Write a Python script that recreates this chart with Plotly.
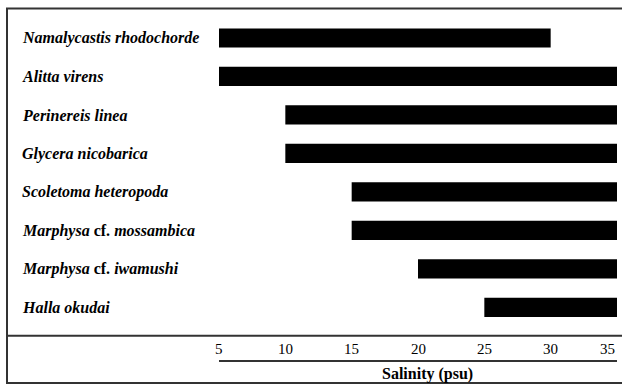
import plotly.graph_objects as go

species = [
    "<i>Namalycastis rhodochorde</i>",
    "<i>Alitta virens</i>",
    "<i>Perinereis linea</i>",
    "<i>Glycera nicobarica</i>",
    "<i>Scoletoma heteropoda</i>",
    "<i>Marphysa</i> cf. <i>mossambica</i>",
    "<i>Marphysa</i> cf. <i>iwamushi</i>",
    "<i>Halla okudai</i>",
]
keys = ["Namalycastis", "Alitta", "Perinereis", "Glycera", "Scoletoma",
        "Marphysa_m", "Marphysa_i", "Halla"]
sal_min = [5, 5, 10, 10, 15, 15, 20, 25]
sal_max = [30, 35, 35, 35, 35, 35, 35, 35]
tick_vals = [5, 10, 15, 20, 25, 30, 35]
tick_text = ["5", "10", "15", "20", "25", "30", "35"]
x_title = "Salinity (psu)"

W, H = 622, 385
L, R, T, B = 219, 5, 8, 49
pw, ph = W - L - R, H - T - B

def px_x(p):
    return (p - L) / pw

def px_y(p):
    return (H - B - p) / ph

fig = go.Figure()
fig.add_trace(go.Bar(
    y=keys,
    x=[b - a for a, b in zip(sal_min, sal_max)],
    base=sal_min,
    orientation="h",
    width=0.5,
    marker=dict(color="black", line=dict(width=0)),
    hoverinfo="skip",
))

font = "Liberation Serif"
annotations = []
for k, s in zip(keys, species):
    annotations.append(dict(
        x=px_x(20), xref="paper", y=k, yref="y",
        text="<b>" + s + "</b>", showarrow=False,
        xanchor="left", yanchor="middle",
        font=dict(family=font, size=16, color="black"),
    ))
for i, (v, t) in enumerate(zip(tick_vals, tick_text)):
    annotations.append(dict(
        x=v, xref="x", y=px_y(349), yref="paper",
        text=t, showarrow=False,
        xanchor="right" if i == len(tick_vals) - 1 else "center",
        yanchor="middle",
        font=dict(family=font, size=15, color="black"),
    ))
annotations.append(dict(
    x=px_x(427), xref="paper", y=px_y(374), yref="paper",
    text="<b>" + x_title + "</b>", showarrow=False,
    xanchor="center", yanchor="middle",
    font=dict(family=font, size=16, color="black"),
))

border = "#333333"
shapes = [
    dict(type="rect", xref="paper", yref="paper",
         x0=px_x(7), x1=px_x(630), y0=px_y(383), y1=px_y(8.5),
         line=dict(color=border, width=2), layer="above"),
    dict(type="line", xref="paper", yref="paper",
         x0=px_x(7), x1=px_x(630), y0=px_y(335.7), y1=px_y(335.7),
         line=dict(color=border, width=2), layer="above"),
    dict(type="line", xref="x", yref="paper",
         x0=tick_vals[0], x1=tick_vals[-1], y0=px_y(361), y1=px_y(361),
         line=dict(color=border, width=2), layer="above"),
]

c0, c7 = 38, 307.5
step = (c7 - c0) / 7
yr_top = (T - c0) / step
yr_bot = (H - B - c0) / step

fig.update_layout(
    width=W, height=H,
    margin=dict(l=L, r=R, t=T, b=B, pad=0),
    paper_bgcolor="white", plot_bgcolor="white",
    showlegend=False,
    annotations=annotations,
    shapes=shapes,
    xaxis=dict(range=[5, 35], tickvals=tick_vals, showticklabels=False,
               ticks="", showgrid=False, zeroline=False, showline=False),
    yaxis=dict(type="category", categoryorder="array", categoryarray=keys,
               range=[yr_bot, yr_top], showticklabels=False, ticks="",
               showgrid=False, zeroline=False, showline=False),
)

fig.write_html("out.html", config={"displayModeBar": False},
               post_script="document.body.style.margin='0';document.body.style.overflow='hidden';")
